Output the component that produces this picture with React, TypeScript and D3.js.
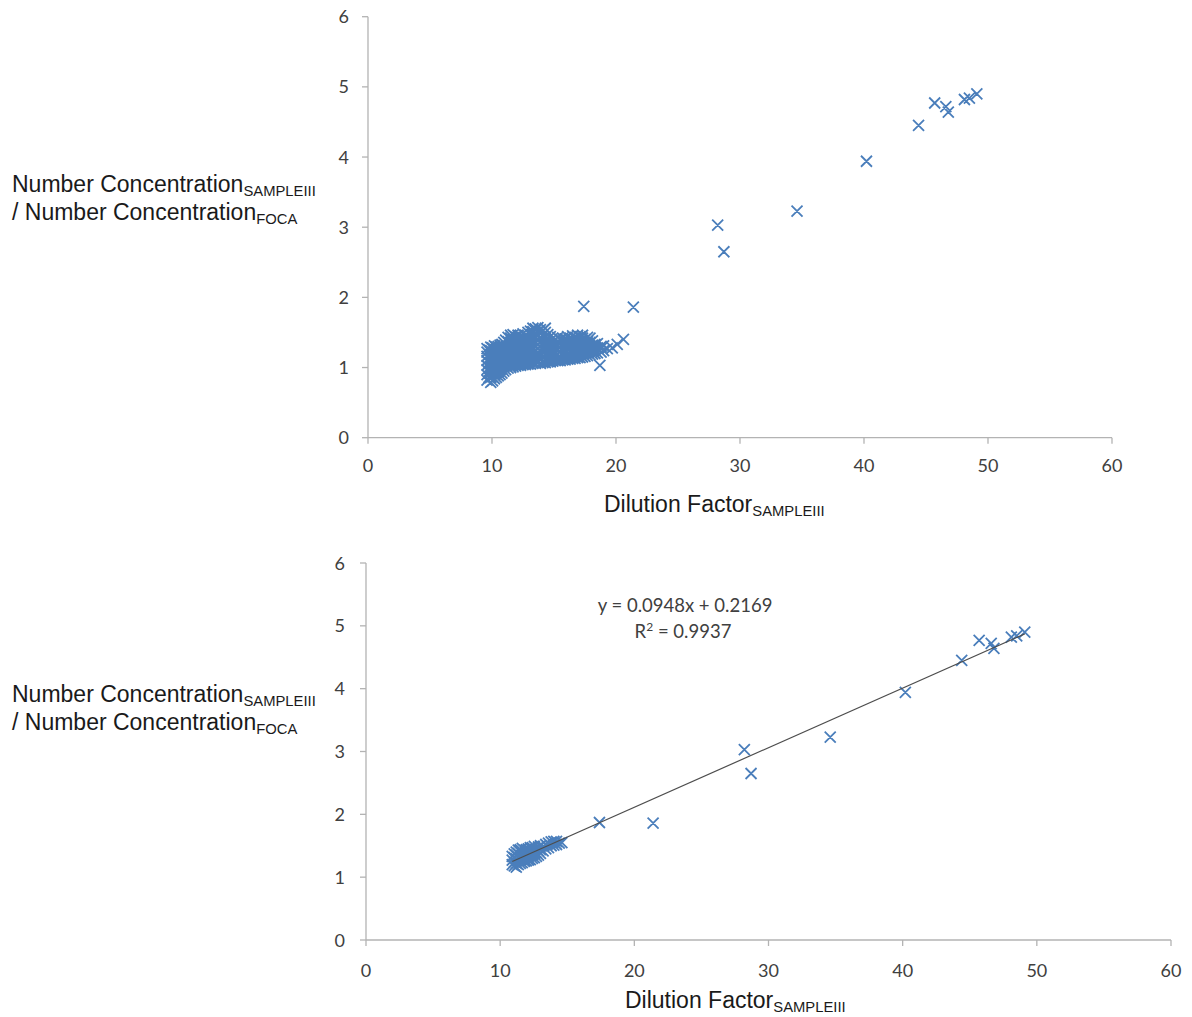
import React from "react";
import * as d3 from "d3";

// ---------- DATA ----------
// Top panel: dense cluster, listed as [x, y values at that x]
const topClusterRows: [number, number[]][] = [
  [9.6, [0.82, 0.9, 0.97, 1.03, 1.1, 1.16, 1.22, 1.27]],
  [9.75, [0.86, 0.94, 1.0, 1.07, 1.13, 1.19, 1.25]],
  [9.9, [0.79, 0.86, 0.93, 0.99, 1.05, 1.12, 1.18, 1.24, 1.29]],
  [10.05, [0.81, 0.87, 0.95, 1.01, 1.07, 1.15, 1.21, 1.28]],
  [10.2, [0.84, 0.9, 0.96, 1.02, 1.08, 1.14, 1.2, 1.26, 1.31]],
  [10.35, [0.86, 0.93, 0.99, 1.05, 1.11, 1.17, 1.23, 1.29]],
  [10.5, [0.88, 0.94, 1.0, 1.06, 1.12, 1.18, 1.24, 1.3]],
  [10.65, [0.9, 0.97, 1.03, 1.09, 1.15, 1.21, 1.27, 1.32]],
  [10.8, [0.92, 0.98, 1.04, 1.1, 1.16, 1.22, 1.28, 1.33]],
  [10.95, [0.95, 1.01, 1.07, 1.13, 1.19, 1.25, 1.31, 1.36]],
  [11.1, [0.97, 1.03, 1.09, 1.15, 1.21, 1.27, 1.33, 1.39]],
  [11.3, [0.99, 1.05, 1.12, 1.18, 1.24, 1.3, 1.37, 1.43]],
  [11.5, [1.0, 1.06, 1.12, 1.18, 1.24, 1.3, 1.36, 1.42, 1.46]],
  [11.7, [1.01, 1.07, 1.15, 1.21, 1.27, 1.33, 1.4, 1.47]],
  [11.9, [1.02, 1.08, 1.14, 1.2, 1.26, 1.32, 1.38, 1.44]],
  [12.1, [1.03, 1.11, 1.17, 1.23, 1.29, 1.35, 1.41, 1.46]],
  [12.3, [1.03, 1.09, 1.15, 1.21, 1.27, 1.33, 1.39, 1.45]],
  [12.5, [1.04, 1.12, 1.18, 1.24, 1.3, 1.36, 1.43, 1.48]],
  [12.7, [1.04, 1.1, 1.16, 1.22, 1.28, 1.34, 1.4, 1.46]],
  [12.9, [1.05, 1.13, 1.19, 1.25, 1.31, 1.38, 1.44, 1.5]],
  [13.1, [1.05, 1.11, 1.17, 1.23, 1.29, 1.35, 1.41, 1.47, 1.52]],
  [13.3, [1.06, 1.14, 1.2, 1.26, 1.33, 1.39, 1.45, 1.51, 1.56]],
  [13.5, [1.06, 1.12, 1.18, 1.24, 1.3, 1.36, 1.42, 1.48, 1.55]],
  [13.7, [1.07, 1.15, 1.21, 1.27, 1.33, 1.39, 1.45, 1.52, 1.57]],
  [13.9, [1.06, 1.12, 1.18, 1.24, 1.3, 1.36, 1.42, 1.49, 1.54]],
  [14.1, [1.07, 1.15, 1.21, 1.27, 1.34, 1.4, 1.46, 1.53]],
  [14.3, [1.07, 1.13, 1.19, 1.25, 1.31, 1.37, 1.43, 1.5, 1.56]],
  [14.5, [1.08, 1.16, 1.22, 1.29, 1.35, 1.41, 1.47]],
  [14.7, [1.08, 1.14, 1.2, 1.26, 1.32, 1.38, 1.44]],
  [14.9, [1.09, 1.17, 1.23, 1.3, 1.36, 1.42]],
  [15.1, [1.1, 1.16, 1.22, 1.28, 1.34, 1.4]],
  [15.3, [1.1, 1.19, 1.25, 1.31, 1.37, 1.43]],
  [15.5, [1.1, 1.16, 1.22, 1.28, 1.34, 1.4]],
  [15.7, [1.11, 1.19, 1.26, 1.32, 1.38, 1.42]],
  [15.9, [1.11, 1.17, 1.23, 1.29, 1.35, 1.41]],
  [16.1, [1.12, 1.2, 1.27, 1.33, 1.39, 1.44]],
  [16.3, [1.12, 1.18, 1.24, 1.3, 1.36, 1.42]],
  [16.5, [1.13, 1.21, 1.27, 1.34, 1.4, 1.45]],
  [16.7, [1.13, 1.19, 1.25, 1.31, 1.37, 1.43]],
  [16.9, [1.14, 1.22, 1.29, 1.35, 1.41, 1.46]],
  [17.1, [1.14, 1.2, 1.26, 1.32, 1.38, 1.44]],
  [17.3, [1.15, 1.23, 1.3, 1.36, 1.42, 1.46]],
  [17.5, [1.16, 1.22, 1.28, 1.34, 1.4]],
  [17.7, [1.17, 1.25, 1.31, 1.37, 1.43]],
  [17.9, [1.18, 1.24, 1.3, 1.36, 1.42]],
  [18.1, [1.19, 1.26, 1.32, 1.38]],
  [18.3, [1.2, 1.27, 1.33]],
  [18.5, [1.21, 1.28, 1.34]],
  [18.8, [1.22, 1.3]],
  [19.0, [1.24, 1.31]],
  [19.3, [1.27]],
];
const topExtraX = [18.7, 19.7, 20.1, 20.6];
const topExtraY = [1.03, 1.28, 1.33, 1.4];

// Outlying points common to both panels
const outlierX = [17.4, 21.4, 28.2, 28.7, 34.6, 40.2, 44.4, 45.7, 46.6, 46.8, 48.1, 48.5, 49.1];
const outlierY = [1.87, 1.86, 3.03, 2.65, 3.23, 3.94, 4.45, 4.77, 4.72, 4.64, 4.82, 4.84, 4.9];

// Bottom panel: small cluster, [x, y values]
const bottomClusterRows: [number, number[]][] = [
  [10.9, [1.2, 1.27, 1.33]],
  [11.05, [1.18, 1.24, 1.31, 1.37]],
  [11.2, [1.16, 1.22, 1.29, 1.35, 1.4]],
  [11.35, [1.2, 1.26, 1.32, 1.38, 1.43]],
  [11.5, [1.22, 1.28, 1.34, 1.4, 1.44]],
  [11.65, [1.23, 1.29, 1.35, 1.41, 1.46]],
  [11.8, [1.25, 1.31, 1.37, 1.43]],
  [11.95, [1.26, 1.32, 1.38, 1.44]],
  [12.1, [1.27, 1.33, 1.39, 1.45]],
  [12.25, [1.28, 1.34, 1.41, 1.47]],
  [12.4, [1.3, 1.36, 1.42, 1.47]],
  [12.55, [1.31, 1.38, 1.44, 1.49]],
  [12.7, [1.33, 1.39, 1.45]],
  [12.85, [1.35, 1.42, 1.48]],
  [13.0, [1.38, 1.44, 1.5]],
  [13.2, [1.42, 1.49]],
  [13.4, [1.45, 1.52]],
  [13.6, [1.47, 1.54]],
  [13.8, [1.5, 1.56]],
  [14.0, [1.51, 1.57]],
  [14.2, [1.52, 1.57]],
  [14.4, [1.54]],
  [14.6, [1.55]],
];

const trendSlope = 0.0948;
const trendIntercept = 0.2169;
const equationText = "y = 0.0948x + 0.2169";
const r2Value = "0.9937";

const xTicks = [0, 10, 20, 30, 40, 50, 60];
const yTicks = [0, 1, 2, 3, 4, 5, 6];

// ---------- HELPERS ----------
type Pt = [number, number];
const expandRows = (rows: [number, number[]][]): Pt[] =>
  rows.flatMap(([x, ys]) => ys.map((y) => [x, y] as Pt));
const zipPts = (xs: number[], ys: number[]): Pt[] => xs.map((x, i) => [x, ys[i]] as Pt);

const topPoints: Pt[] = [
  ...expandRows(topClusterRows),
  ...zipPts(topExtraX, topExtraY),
  ...zipPts(outlierX, outlierY),
];
const bottomPoints: Pt[] = [...expandRows(bottomClusterRows), ...zipPts(outlierX, outlierY)];

const MARKER = "#4a7ebb";
const AXIS = "#b3b3b3";
const TICKTEXT = "#404040";
const TITLE = "#1a1a1a";
const TICKFONT = "Lato, 'Open Sans', sans-serif";
const TITLEFONT = "'Liberation Sans', Arial, sans-serif";

interface PanelProps {
  points: Pt[];
  xRange: [number, number];
  yRange: [number, number];
  xLabelBaseline: number;
  yLabelRight: number;
  yTitleBaseline: number;
  xTitleBaseline: number;
  xTitleX: number;
  trend?: boolean;
}

function Panel(p: PanelProps) {
  const x = d3.scaleLinear().domain([0, 60]).range(p.xRange);
  const y = d3.scaleLinear().domain([0, 6]).range(p.yRange);
  const x0 = x(0);
  const y0 = y(0);
  const s = 5.5;
  const markerPath = (px: number, py: number) =>
    `M${px - s},${py - s}L${px + s},${py + s}M${px - s},${py + s}L${px + s},${py - s}`;
  const path = p.points.map(([a, b]) => markerPath(x(a), y(b))).join("");

  let trendEl = null;
  if (p.trend) {
    const xs = p.points.map((d) => d[0]);
    const [mn, mx] = d3.extent(xs) as [number, number];
    const line = d3
      .line<number>()
      .x((v) => x(v))
      .y((v) => y(trendSlope * v + trendIntercept));
    trendEl = <path d={line([mn, mx]) || ""} stroke="#4d4d4d" strokeWidth={1.2} fill="none" />;
  }

  return (
    <g>
      {/* axes */}
      <line x1={x0} x2={x0} y1={y(6)} y2={y0} stroke={AXIS} strokeWidth={1.3} />
      <line x1={x0} x2={x(60)} y1={y0} y2={y0} stroke={AXIS} strokeWidth={1.3} />
      {yTicks.map((t) => (
        <g key={"y" + t}>
          <line x1={x0 - 6} x2={x0} y1={y(t)} y2={y(t)} stroke={AXIS} strokeWidth={1.3} />
          <text
            x={p.yLabelRight}
            y={y(t) + 6.5}
            textAnchor="end"
            fontFamily={TICKFONT}
            fontSize={18}
            fill={TICKTEXT}
          >
            {t}
          </text>
        </g>
      ))}
      {xTicks.map((t) => (
        <g key={"x" + t}>
          <line x1={x(t)} x2={x(t)} y1={y0} y2={y0 + 6} stroke={AXIS} strokeWidth={1.3} />
          <text
            x={x(t)}
            y={p.xLabelBaseline}
            textAnchor="middle"
            fontFamily={TICKFONT}
            fontSize={18}
            fill={TICKTEXT}
          >
            {t}
          </text>
        </g>
      ))}
      <path d={path} stroke={MARKER} strokeWidth={1.8} fill="none" />
      {trendEl}
      {/* y title */}
      <text x={12} y={p.yTitleBaseline} fontFamily={TITLEFONT} fontSize={23} fill={TITLE}>
        Number Concentration
        <tspan fontSize={14.8} dy={4}>SAMPLEIII</tspan>
      </text>
      <text x={12} y={p.yTitleBaseline + 28} fontFamily={TITLEFONT} fontSize={23} fill={TITLE}>
        / Number Concentration
        <tspan fontSize={14.8} dy={4}>FOCA</tspan>
      </text>
      {/* x title */}
      <text x={p.xTitleX} y={p.xTitleBaseline} fontFamily={TITLEFONT} fontSize={23} fill={TITLE}>
        Dilution Factor
        <tspan fontSize={14.8} dy={4}>SAMPLEIII</tspan>
      </text>
    </g>
  );
}

export default function App() {
  return (
    <div style={{ position: "absolute", left: 0, top: 0 }}>
      <svg width={1192} height={1017} style={{ display: "block", background: "#fff" }}>
        <Panel
          points={topPoints}
          xRange={[368, 1112]}
          yRange={[437.7, 16.7]}
          xLabelBaseline={472}
          yLabelRight={349}
          yTitleBaseline={192}
          xTitleX={604}
          xTitleBaseline={512}
        />
        <Panel
          points={bottomPoints}
          xRange={[366, 1171]}
          yRange={[940, 563]}
          xLabelBaseline={977}
          yLabelRight={345}
          yTitleBaseline={702}
          xTitleX={625}
          xTitleBaseline={1008}
          trend
        />
        <text
          x={685}
          y={612}
          textAnchor="middle"
          fontFamily={TICKFONT}
          fontSize={18.5}
          fill={TICKTEXT}
        >
          {equationText}
        </text>
        <text x={683} y={638} textAnchor="middle" fontFamily={TICKFONT} fontSize={18.5} fill={TICKTEXT}>
          R<tspan fontSize={12} dy={-7}>2</tspan>
          <tspan dy={7}>{" = " + r2Value}</tspan>
        </text>
      </svg>
    </div>
  );
}
